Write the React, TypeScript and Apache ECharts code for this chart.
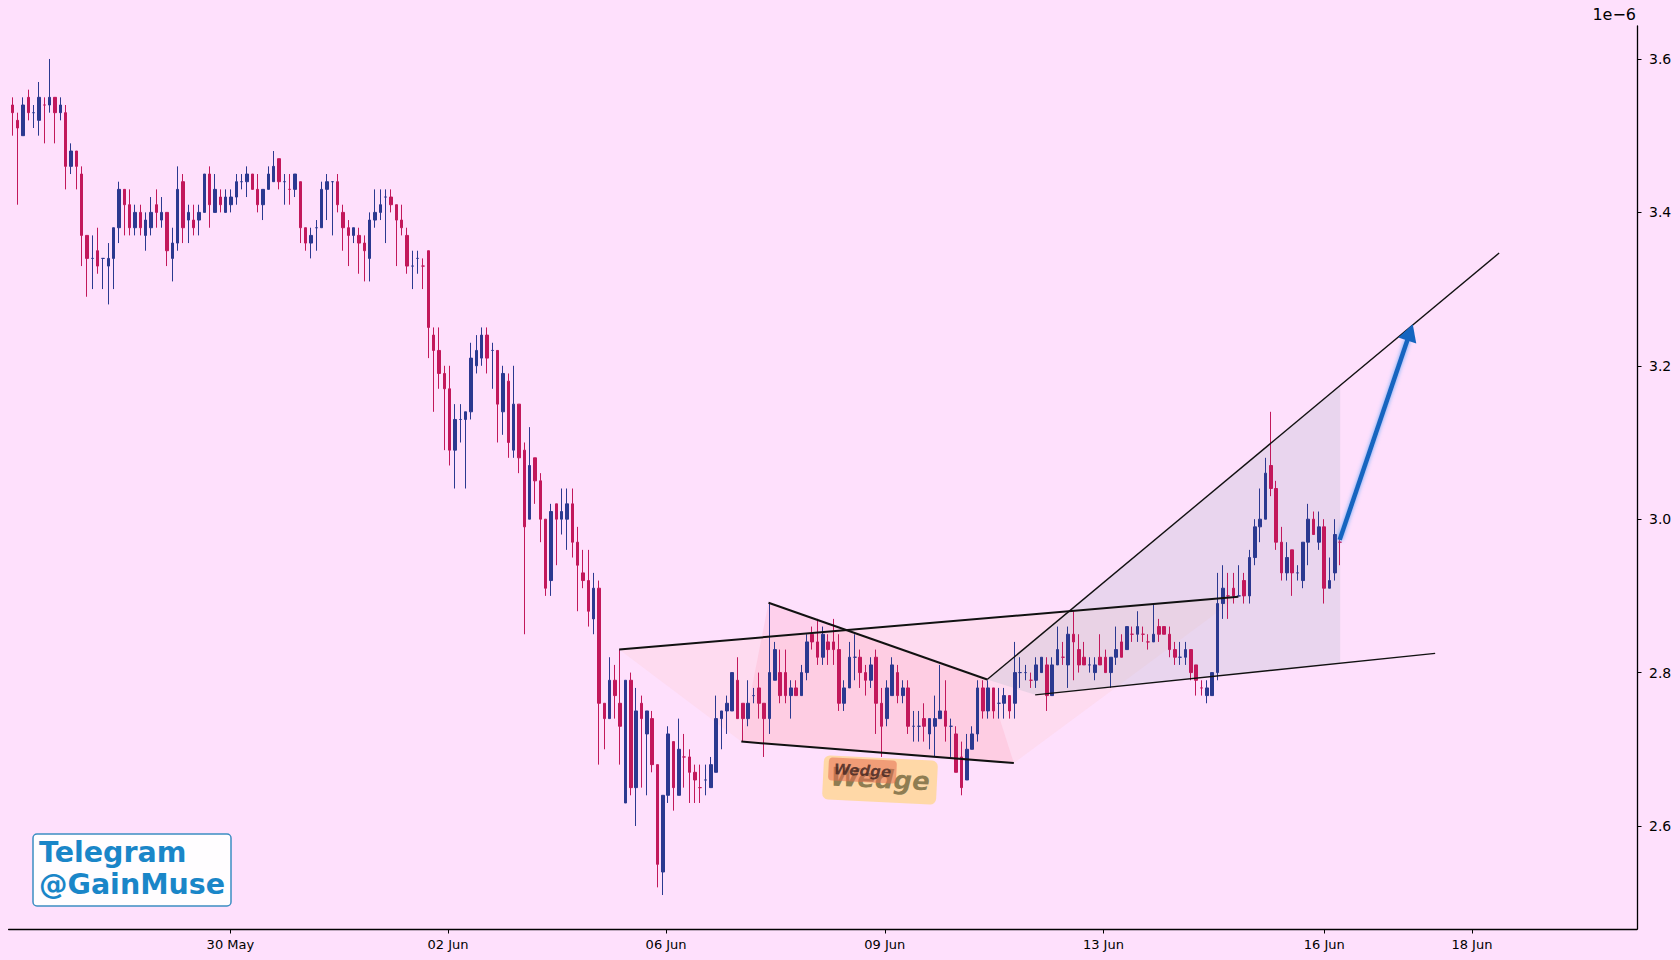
import React, { useEffect, useRef } from 'react';
import * as echarts from 'echarts';

// Candles: [open, high, low, close], prices in units of 1e-6
const ohlc: number[][] = [
  [3.54,3.55,3.50,3.53],[3.52,3.53,3.41,3.51],[3.50,3.55,3.50,3.54],[3.55,3.56,3.52,3.53],[3.53,3.54,3.51,3.53],
  [3.52,3.57,3.50,3.55],[3.54,3.55,3.49,3.54],[3.54,3.60,3.53,3.55],[3.55,3.55,3.49,3.53],[3.53,3.55,3.52,3.54],
  [3.53,3.54,3.43,3.46],[3.46,3.49,3.45,3.48],[3.48,3.48,3.43,3.46],[3.45,3.46,3.33,3.37],[3.37,3.37,3.29,3.34],
  [3.34,3.37,3.30,3.34],[3.35,3.38,3.32,3.33],[3.34,3.34,3.30,3.34],[3.33,3.36,3.28,3.34],[3.34,3.38,3.30,3.38],
  [3.38,3.44,3.36,3.43],[3.43,3.43,3.37,3.41],[3.41,3.43,3.37,3.38],[3.38,3.41,3.37,3.40],[3.40,3.41,3.37,3.38],
  [3.37,3.40,3.35,3.39],[3.38,3.42,3.37,3.40],[3.41,3.43,3.38,3.40],[3.39,3.42,3.38,3.40],[3.40,3.40,3.33,3.35],
  [3.34,3.38,3.31,3.36],[3.36,3.46,3.35,3.43],[3.44,3.45,3.36,3.38],[3.39,3.41,3.36,3.40],[3.39,3.41,3.37,3.38],
  [3.39,3.41,3.37,3.40],[3.40,3.45,3.40,3.45],[3.45,3.46,3.38,3.41],[3.40,3.45,3.40,3.43],[3.42,3.43,3.40,3.41],
  [3.40,3.43,3.40,3.42],[3.41,3.43,3.40,3.42],[3.42,3.45,3.41,3.44],[3.44,3.45,3.43,3.44],[3.44,3.46,3.42,3.45],
  [3.45,3.45,3.43,3.43],[3.43,3.45,3.40,3.41],[3.41,3.43,3.39,3.43],[3.43,3.46,3.43,3.45],[3.44,3.48,3.44,3.46],
  [3.47,3.47,3.43,3.44],[3.44,3.45,3.41,3.44],[3.43,3.45,3.41,3.43],[3.43,3.45,3.42,3.45],[3.44,3.44,3.36,3.38],
  [3.38,3.38,3.35,3.36],[3.36,3.38,3.34,3.37],[3.38,3.39,3.35,3.38],[3.38,3.44,3.38,3.43],[3.43,3.45,3.39,3.44],
  [3.44,3.44,3.37,3.44],[3.44,3.45,3.40,3.41],[3.40,3.41,3.35,3.38],[3.38,3.39,3.33,3.37],[3.37,3.38,3.36,3.38],
  [3.37,3.38,3.32,3.36],[3.36,3.37,3.31,3.35],[3.34,3.40,3.31,3.39],[3.39,3.43,3.38,3.40],[3.40,3.43,3.39,3.41],
  [3.42,3.43,3.36,3.42],[3.42,3.43,3.40,3.41],[3.41,3.41,3.33,3.39],[3.39,3.41,3.37,3.38],[3.37,3.38,3.32,3.33],
  [3.33,3.35,3.30,3.33],[3.34,3.35,3.32,3.34],[3.33,3.34,3.30,3.33],[3.35,3.35,3.21,3.25],[3.24,3.25,3.14,3.22],
  [3.22,3.25,3.17,3.19],[3.19,3.20,3.09,3.17],[3.17,3.20,3.07,3.09],[3.09,3.15,3.04,3.13],[3.13,3.15,3.10,3.13],
  [3.13,3.14,3.04,3.14],[3.14,3.23,3.13,3.21],[3.20,3.24,3.19,3.22],[3.21,3.25,3.20,3.24],[3.24,3.25,3.19,3.21],
  [3.22,3.23,3.17,3.22],[3.22,3.22,3.10,3.15],[3.14,3.20,3.11,3.19],[3.18,3.19,3.08,3.10],[3.09,3.20,3.08,3.15],
  [3.15,3.15,3.06,3.08],[3.09,3.10,2.85,2.99],[3.00,3.12,3.00,3.07],[3.08,3.08,3.02,3.05],[3.05,3.06,2.97,3.00],
  [3.00,3.00,2.90,2.91],[2.92,3.02,2.90,3.01],[3.02,3.02,2.94,3.00],[3.00,3.04,2.98,3.01],[3.00,3.04,2.96,3.02],
  [3.02,3.04,2.95,2.97],[2.97,2.99,2.88,2.94],[2.93,2.96,2.91,2.92],[2.92,2.96,2.86,2.88],[2.87,2.93,2.85,2.91],
  [2.91,2.92,2.68,2.76],[2.76,2.76,2.70,2.74],[2.74,2.82,2.74,2.79],[2.79,2.81,2.74,2.77],[2.76,2.83,2.68,2.73],
  [2.63,2.79,2.63,2.79],[2.79,2.80,2.64,2.65],[2.65,2.78,2.60,2.75],[2.76,2.77,2.65,2.74],[2.72,2.75,2.64,2.75],
  [2.74,2.75,2.67,2.68],[2.68,2.68,2.52,2.55],[2.54,2.64,2.51,2.64],[2.64,2.73,2.63,2.72],[2.71,2.71,2.62,2.65],
  [2.64,2.74,2.64,2.70],[2.69,2.72,2.65,2.69],[2.69,2.70,2.63,2.67],[2.67,2.68,2.63,2.66],[2.65,2.68,2.63,2.65],
  [2.66,2.68,2.64,2.66],[2.65,2.69,2.65,2.68],[2.67,2.77,2.67,2.74],[2.74,2.75,2.70,2.75],[2.75,2.77,2.72,2.76],
  [2.75,2.80,2.75,2.80],[2.79,2.82,2.74,2.74],[2.76,2.76,2.71,2.74],[2.74,2.79,2.73,2.76],[2.77,2.78,2.76,2.77],
  [2.78,2.80,2.74,2.76],[2.76,2.76,2.69,2.74],[2.74,2.89,2.72,2.80],[2.79,2.84,2.79,2.83],[2.80,2.83,2.76,2.77],
  [2.80,2.83,2.76,2.77],[2.77,2.79,2.74,2.78],[2.78,2.79,2.77,2.77],[2.77,2.81,2.77,2.80],[2.80,2.85,2.79,2.84],
  [2.85,2.86,2.83,2.84],[2.84,2.87,2.81,2.82],[2.82,2.86,2.81,2.85],[2.84,2.85,2.81,2.83],[2.84,2.87,2.81,2.83],
  [2.83,2.85,2.75,2.76],[2.76,2.79,2.75,2.78],[2.78,2.84,2.78,2.82],[2.82,2.85,2.79,2.82],[2.82,2.83,2.78,2.80],
  [2.80,2.81,2.77,2.79],[2.79,2.82,2.78,2.81],[2.82,2.83,2.72,2.76],[2.76,2.78,2.69,2.73],[2.74,2.79,2.73,2.78],
  [2.77,2.82,2.77,2.81],[2.80,2.81,2.76,2.77],[2.77,2.79,2.76,2.78],[2.78,2.79,2.72,2.73],[2.73,2.75,2.71,2.73],
  [2.73,2.75,2.71,2.73],[2.74,2.76,2.71,2.73],[2.72,2.74,2.70,2.74],[2.73,2.77,2.69,2.74],[2.74,2.81,2.74,2.75],
  [2.75,2.79,2.71,2.73],[2.73,2.74,2.69,2.73],[2.72,2.73,2.67,2.67],[2.69,2.71,2.64,2.65],[2.66,2.72,2.66,2.70],
  [2.70,2.73,2.70,2.72],[2.72,2.79,2.71,2.78],[2.78,2.79,2.74,2.75],[2.75,2.79,2.74,2.78],[2.78,2.78,2.74,2.75],
  [2.76,2.78,2.74,2.76],[2.76,2.78,2.74,2.77],[2.77,2.77,2.74,2.75],[2.76,2.84,2.74,2.80],[2.80,2.82,2.78,2.80],
  [2.80,2.81,2.79,2.80],[2.79,2.80,2.78,2.79],[2.79,2.82,2.78,2.81],[2.80,2.82,2.80,2.82],[2.81,2.82,2.75,2.77],
  [2.77,2.82,2.77,2.81],[2.81,2.86,2.81,2.83],[2.82,2.84,2.81,2.82],[2.81,2.86,2.78,2.85],[2.85,2.88,2.79,2.84],
  [2.83,2.85,2.80,2.81],[2.82,2.84,2.81,2.81],[2.81,2.82,2.80,2.81],[2.80,2.82,2.79,2.81],[2.82,2.85,2.81,2.81],
  [2.82,2.83,2.80,2.80],[2.80,2.82,2.78,2.82],[2.82,2.86,2.81,2.83],[2.84,2.85,2.82,2.82],[2.83,2.86,2.83,2.86],
  [2.85,2.86,2.84,2.85],[2.85,2.88,2.84,2.86],[2.85,2.86,2.84,2.85],[2.84,2.85,2.83,2.84],[2.84,2.89,2.84,2.85],
  [2.86,2.87,2.84,2.85],[2.86,2.86,2.85,2.85],[2.85,2.86,2.82,2.83],[2.83,2.84,2.81,2.82],[2.82,2.84,2.81,2.82],
  [2.82,2.84,2.81,2.83],[2.83,2.83,2.79,2.80],[2.81,2.81,2.77,2.79],[2.78,2.79,2.77,2.78],[2.77,2.79,2.76,2.78],
  [2.77,2.80,2.77,2.80],[2.80,2.93,2.79,2.89],[2.89,2.94,2.87,2.91],[2.90,2.93,2.87,2.90],[2.91,2.93,2.89,2.90],
  [2.90,2.94,2.90,2.90],[2.92,2.93,2.89,2.90],[2.90,2.96,2.89,2.95],[2.95,3.00,2.94,2.99],[2.99,3.04,2.97,3.00],
  [3.00,3.08,3.00,3.06],[3.07,3.14,3.03,3.04],[3.04,3.05,2.96,2.97],[2.97,2.99,2.92,2.93],[2.93,2.97,2.92,2.95],
  [2.96,2.96,2.90,2.93],[2.93,2.94,2.92,2.93],[2.92,2.97,2.91,2.97],[2.97,3.02,2.94,3.00],[3.00,3.01,2.98,2.98],
  [2.97,3.01,2.96,2.99],[2.99,3.00,2.89,2.91],[2.91,2.95,2.91,2.92],[2.93,3.00,2.92,2.98],[2.97,2.98,2.94,2.97],
];

const xTickPositions = [40.9, 81.7, 122.6, 163.6, 204.6, 246.0, 273.7];
const xTickLabels = ['30 May', '02 Jun', '06 Jun', '09 Jun', '13 Jun', '16 Jun', '18 Jun'];
const yTickValues = [2.6, 2.8, 3.0, 3.2, 3.4, 3.6];

// Pattern annotations: [candle index, price]
const wedgeUpper = [[113.8, 2.830], [229.9, 2.899]];
const wedgeLower = [[136.7, 2.710], [187.8, 2.682]];
const wedgeFalling = [[141.8, 2.891], [182.8, 2.791]];
const channelUpper = [[182.8, 2.791], [278.8, 3.347]];
const channelLower = [[191.8, 2.771], [266.8, 2.825]];
const patternZone = [[113.8, 2.830], [229.9, 2.899], [187.8, 2.682], [136.7, 2.710]];
const wedgeZone = [[141.8, 2.891], [182.8, 2.791], [187.8, 2.682], [136.7, 2.710]];
const projectionZone = [[182.8, 2.791], [249.0, 3.174], [249.0, 2.812], [191.8, 2.771]];
const arrowPath = [[248.9, 2.973], [262.6, 3.254]];

const RED = '#C2185B';
const BLUE = '#2B3990';
const FONT = '"DejaVu Sans", sans-serif';

function zoneSeries(points: number[][], fill: string) {
  return {
    type: 'custom',
    silent: true,
    z: 1,
    data: [0],
    renderItem: (_p: any, api: any) => ({
      type: 'polygon',
      shape: { points: points.map((p) => api.coord(p)) },
      style: { fill },
    }),
  };
}

function lineSeries(points: number[][], width: number) {
  return {
    type: 'line',
    silent: true,
    z: 5,
    data: points,
    symbol: 'none',
    lineStyle: { color: '#111', width },
  };
}

export default function App() {
  const ref = useRef<HTMLDivElement>(null);
  useEffect(() => {
    if (!ref.current) return;
    const chart = echarts.init(ref.current, undefined, { renderer: 'svg' });
    const option: any = {
      animation: false,
      backgroundColor: '#FEE0FC',
      grid: { left: 8.6, right: 43, top: 26, bottom: 31, containLabel: false, outerBoundsMode: 'none' },
      xAxis: {
        type: 'value',
        min: -0.69,
        max: 304.65,
        axisLine: { show: true, onZero: false, lineStyle: { color: '#000', width: 1.3 } },
        axisTick: { show: true, customValues: xTickPositions, length: 4.5, lineStyle: { color: '#000' } },
        axisLabel: {
          customValues: xTickPositions,
          formatter: (v: number) => {
            const k = xTickPositions.findIndex((p) => Math.abs(p - v) < 0.01);
            return k >= 0 ? xTickLabels[k] : '';
          },
          color: '#000',
          fontSize: 13,
          fontFamily: FONT,
          margin: 9,
        },
        splitLine: { show: false },
      },
      yAxis: {
        type: 'value',
        position: 'right',
        min: 2.4657,
        max: 3.643,
        axisLine: { show: true, onZero: false, lineStyle: { color: '#000', width: 1.3 } },
        axisTick: { show: true, customValues: yTickValues, length: 4.5, lineStyle: { color: '#000' } },
        axisLabel: {
          customValues: yTickValues,
          formatter: (v: number) => v.toFixed(1),
          color: '#000',
          fontSize: 14,
          fontFamily: FONT,
          margin: 12,
        },
        splitLine: { show: false },
      },
      series: [
        zoneSeries(patternZone, 'rgba(255, 200, 200, 0.22)'),
        zoneSeries(wedgeZone, 'rgba(255, 170, 195, 0.28)'),
        zoneSeries(projectionZone, 'rgba(185, 190, 205, 0.3)'),
        {
          type: 'candlestick',
          silent: true,
          z: 3,
          data: ohlc.map((d, i) => [i, d[0], d[3], d[2], d[1]]),
          encode: { x: 0, y: [1, 2, 3, 4] },
          barWidth: 3,
          itemStyle: {
            color: BLUE,
            color0: RED,
            borderColor: BLUE,
            borderColor0: RED,
            borderWidth: 1,
          },
        },
        lineSeries(wedgeUpper, 2),
        lineSeries(wedgeLower, 2),
        lineSeries(wedgeFalling, 2),
        lineSeries(channelUpper, 1.4),
        lineSeries(channelLower, 1.4),
        {
          type: 'custom',
          silent: true,
          z: 6,
          data: [0],
          renderItem: (_p: any, api: any) => {
            const p0 = api.coord(arrowPath[0]);
            const p1 = api.coord(arrowPath[1]);
            const dx = p1[0] - p0[0];
            const dy = p1[1] - p0[1];
            const len = Math.hypot(dx, dy);
            const ux = dx / len;
            const uy = dy / len;
            const nx = -uy;
            const ny = ux;
            const headLen = 17;
            const headHalf = 9.5;
            const bx = p1[0] - ux * headLen;
            const by = p1[1] - uy * headLen;
            return {
              type: 'group',
              children: [
                {
                  type: 'line',
                  shape: { x1: p0[0], y1: p0[1], x2: bx + ux * 2, y2: by + uy * 2 },
                  style: { stroke: '#1565C0', lineWidth: 4.5, shadowBlur: 4, shadowColor: 'rgba(80,160,245,0.9)' },
                },
                {
                  type: 'polygon',
                  shape: {
                    points: [
                      [p1[0], p1[1]],
                      [bx + nx * headHalf, by + ny * headHalf],
                      [bx - nx * headHalf, by - ny * headHalf],
                    ],
                  },
                  style: { fill: '#1565C0' },
                },
              ],
            };
          },
        },
      ],
      graphic: [
        {
          type: 'text',
          right: 44,
          top: 6,
          style: { text: '1e\u22126', font: `16px ${FONT}`, fill: '#000' },
        },
        {
          type: 'group',
          x: 880,
          y: 780,
          rotation: -0.05,
          children: [
            {
              type: 'rect',
              shape: { x: -57, y: -22, width: 114, height: 44, r: 6 },
              style: { fill: 'rgba(255, 210, 110, 0.6)' },
            },
            {
              type: 'text',
              x: 0,
              y: -1,
              style: {
                text: 'Wedge',
                font: `italic bold 26px ${FONT}`,
                fill: 'rgba(100, 90, 50, 0.72)',
                align: 'center',
                verticalAlign: 'middle',
              },
            },
            {
              type: 'rect',
              shape: { x: -52, y: -20, width: 68, height: 23, r: 4 },
              style: { fill: 'rgba(230, 110, 80, 0.55)' },
            },
            {
              type: 'text',
              x: -18,
              y: -8.5,
              style: {
                text: 'Wedge',
                font: `italic bold 15px ${FONT}`,
                fill: 'rgba(70, 40, 35, 0.85)',
                align: 'center',
                verticalAlign: 'middle',
              },
            },
          ],
        },
        {
          type: 'group',
          x: 33,
          y: 834,
          children: [
            {
              type: 'rect',
              shape: { x: 0, y: 0, width: 198, height: 72, r: 4 },
              style: { fill: 'rgba(255,255,255,0.92)', stroke: '#3C8DC2', lineWidth: 1.5 },
            },
            {
              type: 'text',
              x: 6,
              y: 18,
              style: {
                text: 'Telegram',
                font: `bold 28.5px ${FONT}`,
                fill: '#1A86C8',
                verticalAlign: 'middle',
              },
            },
            {
              type: 'text',
              x: 6,
              y: 50,
              style: {
                text: '@GainMuse',
                font: `bold 28.5px ${FONT}`,
                fill: '#1A86C8',
                verticalAlign: 'middle',
              },
            },
          ],
        },
      ],
    };
    chart.setOption(option);
    return () => chart.dispose();
  }, []);
  return (
    <div
      ref={ref}
      style={{ position: 'absolute', left: 0, top: 0, width: 1680, height: 960 }}
    />
  );
}
